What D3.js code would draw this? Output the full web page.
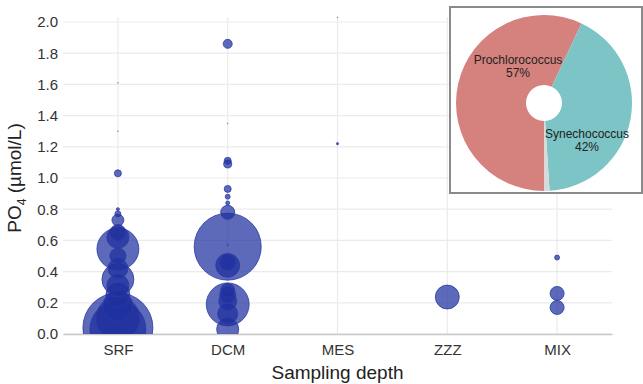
<!DOCTYPE html>
<html>
<head>
<meta charset="utf-8">
<script src="https://cdn.jsdelivr.net/npm/d3@7"></script>
<style>
  body { margin: 0; background: #fff; }
  text { font-family: "Liberation Sans", Arial, sans-serif; }
</style>
</head>
<body>
<svg id="chart"></svg>
<script>
// Bubble plot of PO4 by sampling depth, with taxa pie inset
const W = 643, H = 384;
const margin = { top: 22, right: 31, bottom: 50, left: 63 };
const width = W - margin.left - margin.right;
const height = H - margin.top - margin.bottom;

// categories and axis ticks
const categories = ['SRF', 'DCM', 'MES', 'ZZZ', 'MIX'];
const yTicks = [0, 0.2, 0.4, 0.6, 0.8, 1.0, 1.2, 1.4, 1.6, 1.8, 2.0];

// samples: depth category, PO4 (umol/L), cyanobacteria abundance (relative units)
const depth = [
  'SRF', 'SRF', 'SRF', 'SRF', 'SRF', 'SRF', 'SRF', 'SRF', 'SRF', 'SRF', 'SRF', 'SRF', 'SRF', 'SRF', 'SRF', 'SRF', 'SRF', 'SRF',
  'DCM', 'DCM', 'DCM', 'DCM', 'DCM', 'DCM', 'DCM', 'DCM', 'DCM', 'DCM', 'DCM', 'DCM', 'DCM', 'DCM', 'DCM', 'DCM', 'DCM', 'DCM',
  'MES', 'MES',
  'ZZZ',
  'MIX', 'MIX', 'MIX'
];
const po4 = [
  0.04, 0.03, 0.10, 0.18, 0.25, 0.35, 0.31, 0.42, 0.545, 0.50, 0.62, 0.65, 0.73, 0.77, 0.80, 1.03, 1.30, 1.61,
  0.56, 0.19, 0.44, 0.46, 0.25, 0.21, 0.13, 0.28, 0.03, 0.78, 0.84, 0.88, 0.93, 1.09, 1.11, 1.86, 0.57, 1.35,
  1.22, 2.03,
  0.237,
  0.26, 0.17, 0.49
];
const abundance = [
  12.0, 7.7, 4.7, 2.2, 1.4, 2.5, 1.2, 0.98, 4.3, 0.63, 1.2, 0.63, 0.35, 0.088, 0.022, 0.12, 0.002, 0.002,
  11.0, 4.5, 1.4, 0.63, 0.63, 0.79, 0.98, 0.48, 1.19, 0.48, 0.039, 0.061, 0.12, 0.157, 0.12, 0.2, 0.006, 0.002,
  0.012, 0.002,
  1.4,
  0.48, 0.48, 0.061
];

// pie inset: share of reads (%)
const taxa = ['Prochlorococcus', 'Synechococcus', 'Other'];
const share = [57, 42, 1];
const taxaColors = ['#d5827f', '#7cc4c5', '#d9d9d9'];

const svg = d3.select('#chart')
  .attr('width', W)
  .attr('height', H);

const g = svg.append('g')
  .attr('transform', `translate(${margin.left},${margin.top})`);

// scales
const x = d3.scalePoint()
  .domain(categories)
  .range([0, width])
  .padding(0.5);

const y = d3.scaleLinear()
  .domain([0, 2])
  .range([height, 0]);

const r = d3.scaleSqrt()
  .domain([0, d3.max(abundance)])
  .range([0, 35]);

// grid
g.append('g')
  .selectAll('line')
  .data(yTicks)
  .join('line')
    .attr('x1', 0)
    .attr('x2', width)
    .attr('y1', d => y(d))
    .attr('y2', d => y(d))
    .attr('stroke', '#ebebeb')
    .attr('stroke-width', 1.2);

g.append('g')
  .selectAll('line')
  .data(categories)
  .join('line')
    .attr('x1', d => x(d))
    .attr('x2', d => x(d))
    .attr('y1', y(2.03))
    .attr('y2', height)
    .attr('stroke', '#ebebeb')
    .attr('stroke-width', 1.2);

// axes
const xAxis = g.append('g')
  .attr('transform', `translate(0,${height})`)
  .call(d3.axisBottom(x).tickSize(0).tickPadding(10));
xAxis.select('.domain').attr('stroke', '#c8c8c8').attr('stroke-width', 1.5);
xAxis.selectAll('text').attr('font-size', 15).attr('fill', '#333');

const yAxis = g.append('g')
  .call(d3.axisLeft(y).tickValues(yTicks).tickFormat(d3.format('.1f')).tickSize(0).tickPadding(5));
yAxis.select('.domain').remove();
yAxis.selectAll('text').attr('font-size', 15).attr('fill', '#333');

// axis titles
g.append('text')
  .attr('x', width / 2)
  .attr('y', height + 45)
  .attr('text-anchor', 'middle')
  .attr('font-size', 19)
  .attr('fill', '#222')
  .text('Sampling depth');

const yTitle = g.append('text')
  .attr('transform', `translate(${-margin.left + 21},${height / 2}) rotate(-90)`)
  .attr('text-anchor', 'middle')
  .attr('font-size', 19)
  .attr('fill', '#222');
yTitle.append('tspan').text('PO');
yTitle.append('tspan').attr('font-size', 12).attr('dy', 5).text('4');
yTitle.append('tspan').attr('dy', -5).text(' (\u00b5mol/L)');

// bubbles, clipped to the panel
svg.append('defs').append('clipPath')
  .attr('id', 'panel')
  .append('rect')
    .attr('x', 0)
    .attr('y', -10)
    .attr('width', width)
    .attr('height', height + 10);

const samples = depth.map((d, i) => ({ depth: d, po4: po4[i], n: abundance[i] }))
  .sort((a, b) => b.n - a.n);

g.append('g')
  .attr('clip-path', 'url(#panel)')
  .selectAll('circle')
  .data(samples)
  .join('circle')
    .attr('cx', d => x(d.depth))
    .attr('cy', d => y(d.po4))
    .attr('r', d => r(d.n))
    .attr('fill', '#1e2f9e')
    .attr('fill-opacity', 0.72)
    .attr('stroke', '#2a3ba6')
    .attr('stroke-opacity', d => r(d.n) < 1 ? 0.3 : 0.8)
    .attr('stroke-width', 1);

// pie inset
const inset = svg.append('g');
inset.append('rect')
  .attr('x', 450)
  .attr('y', 7)
  .attr('width', 192)
  .attr('height', 186)
  .attr('fill', '#fff')
  .attr('stroke', '#8a8a8a')
  .attr('stroke-width', 2);

const pieG = inset.append('g')
  .attr('transform', 'translate(544,103)');

const pie = d3.pie()
  .sort(null)
  .startAngle(Math.PI)
  .endAngle(Math.PI * 3);

const arc = d3.arc()
  .innerRadius(18)
  .outerRadius(88);

const slices = pie(share);
pieG.selectAll('path')
  .data(slices)
  .join('path')
    .attr('d', arc)
    .attr('fill', (d, i) => taxaColors[i]);

// label offsets from pie centre (dx, dy)
const labelOffsets = {
  Prochlorococcus: { dx: -26, dy: -39 },
  Synechococcus: { dx: 43, dy: 35 }
};

slices.forEach((s, i) => {
  const off = labelOffsets[taxa[i]];
  if (!off) return;
  const t = pieG.append('text')
    .attr('x', off.dx)
    .attr('y', off.dy)
    .attr('text-anchor', 'middle')
    .attr('font-size', 12)
    .attr('fill', '#222');
  t.append('tspan').attr('x', off.dx).text(taxa[i]);
  t.append('tspan').attr('x', off.dx).attr('dy', 13).text(share[i] + '%');
});
</script>
</body>
</html>
